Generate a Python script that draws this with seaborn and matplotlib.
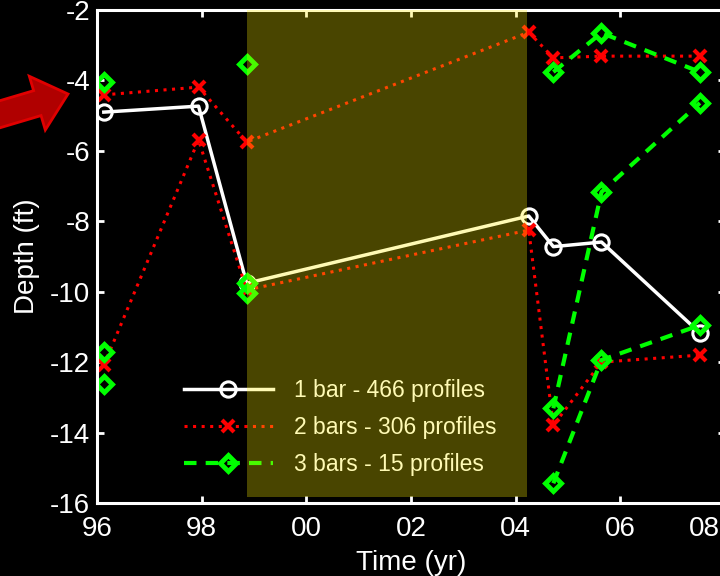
import numpy as np
import pandas as pd
import matplotlib
matplotlib.use("Agg")
import matplotlib.pyplot as plt
import seaborn as sns
from matplotlib.lines import Line2D
from matplotlib.patches import FancyArrow
from matplotlib.transforms import IdentityTransform, offset_copy

# ---- data ----
times = [96.13, 97.94, 98.86, 104.25, 104.72, 105.64, 107.52]
one_bar = [-4.90, -4.73, -9.76, -7.85, -8.72, -8.59, -11.17]
two_bars_a = [-4.41, -4.19, -5.75, -2.63, -3.36, -3.31, -3.31]
two_bars_b = [-12.09, -5.69, -9.95, -8.25, -13.79, -12.00, -11.80]
nan = np.nan
three_bars_a = [-4.05, nan, -3.53, nan, -3.76, -2.65, -3.76]
three_bars_b = [-11.72, nan, -9.76, nan, -13.31, -7.17, -4.64]
three_bars_c = [-12.63, nan, -10.04, nan, -15.44, -11.94, -10.95]
shade_span = [98.86, 104.21]
shade_bottom = -15.83
labels = ["1 bar - 466 profiles", "2 bars - 306 profiles", "3 bars - 15 profiles"]
xticks = [96, 98, 100, 102, 104, 106, 108]
yticks = [-16, -14, -12, -10, -8, -6, -4, -2]


def long_frame(series_list, name):
    rows = []
    for k, vals in enumerate(series_list):
        seg = 0
        for t, v in zip(times, vals):
            if np.isnan(v):
                seg += 1
                continue
            rows.append({"time": t, "depth": v, "unit": f"{name}{k}_{seg}"})
    return pd.DataFrame(rows)


df1 = long_frame([one_bar], "one")
df2 = long_frame([two_bars_a, two_bars_b], "two")
df3 = long_frame([three_bars_a, three_bars_b, three_bars_c], "three")

plt.rcParams["font.family"] = ["Liberation Sans", "DejaVu Sans"]
plt.rcParams["axes.unicode_minus"] = False

fig = plt.figure(figsize=(7.2, 5.76), dpi=100, facecolor="black")
ax = fig.add_axes([97 / 720, 73 / 576, 628 / 720, 493 / 576])
ax.set_facecolor("black")

style1 = dict(color="white", linestyle="-", linewidth=2.5, marker="o", markersize=11,
              markerfacecolor="none", markeredgecolor="white", markeredgewidth=2.2)
style2 = dict(color="red", linestyle=(0, (1, 1.8)), linewidth=2.2, marker="x", markersize=9,
              markerfacecolor="none", markeredgecolor="red", markeredgewidth=3)
style3 = dict(color="#00ff00", linestyle=(0, (3, 2.2)), linewidth=3, marker="D", markersize=8.5,
              markerfacecolor="none", markeredgecolor="#00ff00", markeredgewidth=3.5)

sns.lineplot(data=df1, x="time", y="depth", units="unit", estimator=None, sort=False,
             ax=ax, legend=False, **style1)
sns.lineplot(data=df2, x="time", y="depth", units="unit", estimator=None, sort=False,
             ax=ax, legend=False, **style2)
sns.lineplot(data=df3, x="time", y="depth", units="unit", estimator=None, sort=False,
             ax=ax, legend=False, **style3)

ax.set_xlim(96, 108)
ax.set_ylim(-16, -2)
ax.axvspan(shade_span[0], shade_span[1], ymin=(shade_bottom + 16) / 14, ymax=1,
           color=(1.0, 0.94, 0.0), alpha=0.29, linewidth=0, zorder=10)

ax.set_xticks(xticks)
ax.set_xticklabels([f"{int(t) % 100:02d}" for t in xticks])
ax.set_yticks(yticks)
ax.set_yticklabels([str(v) for v in yticks])
ax.tick_params(axis="both", which="both", direction="in", length=5, width=2,
               colors="white", labelsize=20, top=True, right=True)
ax.tick_params(axis="x", pad=9)
ax.tick_params(axis="y", pad=5)
for s in ax.spines.values():
    s.set_color("white")
    s.set_linewidth(2.2)
ax.set_xlabel("Time (yr)", color="white", fontsize=20, labelpad=6)
ax.set_ylabel("Depth (ft)", color="white", fontsize=20, labelpad=7)

# last x label sits inside the picture, as in the reference
last = ax.get_xticklabels()[-1]
last.set_horizontalalignment("right")
last.set_transform(offset_copy(last.get_transform(), fig=fig, x=-5, y=0, units="dots"))

handles = [Line2D([], [], **style1), Line2D([], [], **style2), Line2D([], [], **style3)]
leg = ax.legend(handles, labels, loc="lower left", bbox_to_anchor=(0.105, 0.012),
                frameon=False, fontsize=16.5, handlelength=3.9, handletextpad=0.9,
                labelspacing=0.62, numpoints=1)
for t in leg.get_texts():
    t.set_color("white")
leg.set_zorder(5)

# red arrow pointing at the chart (decoration)
arrow = FancyArrow(-6, 576 - 116, 74, 22, width=26, head_width=56, head_length=32,
                   length_includes_head=True, facecolor="#b00000", edgecolor="#e00000",
                   linewidth=2, transform=IdentityTransform())
fig.add_artist(arrow)

fig.savefig("out.png", dpi=100, facecolor="black")
